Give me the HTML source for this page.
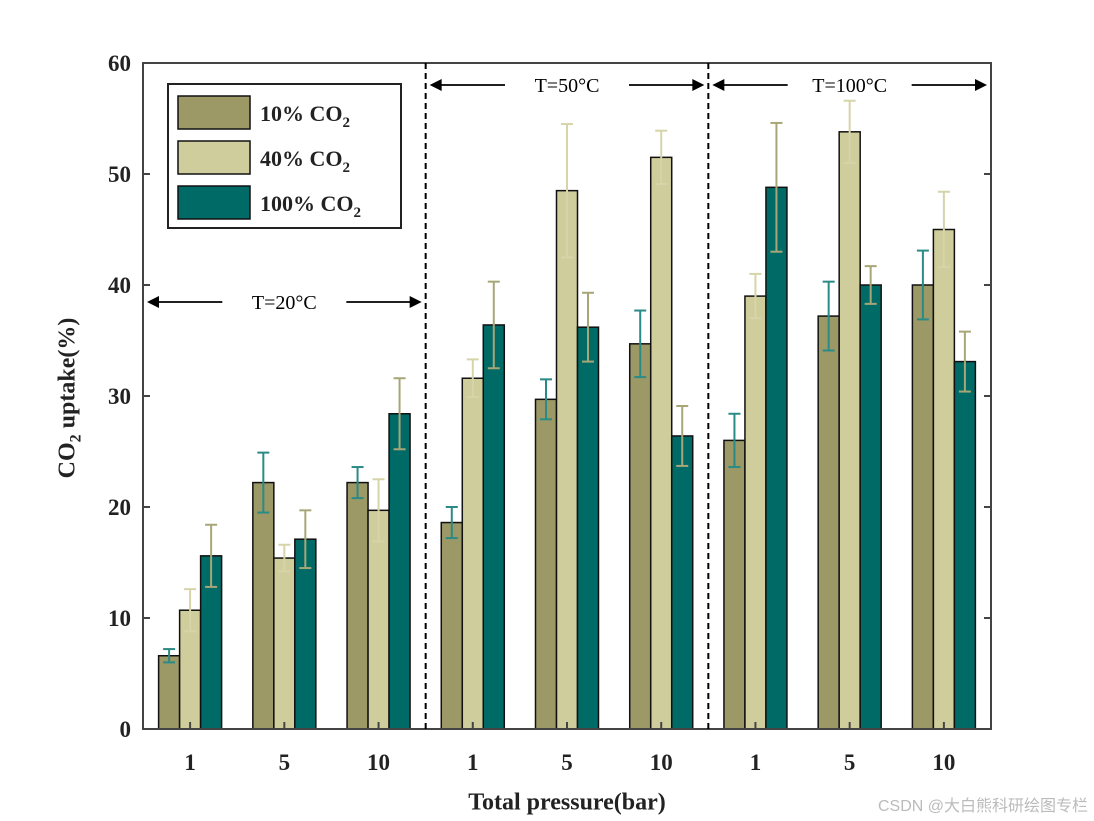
<!DOCTYPE html>
<html><head><meta charset="utf-8"><style>
body{margin:0;background:#fff;}
svg{display:block;font-family:"Liberation Serif",serif;}
</style></head><body>
<svg id="chart" width="1094" height="821" viewBox="0 0 1094 821"></svg>
<script>
const categories = ["1","5","10","1","5","10","1","5","10"];
const seriesNames = ["10% CO2","40% CO2","100% CO2"];
const s10 = [6.6,22.2,22.2,18.6,29.7,34.7,26.0,37.2,40.0];
const s40 = [10.7,15.4,19.7,31.6,48.5,51.5,39.0,53.8,45.0];
const s100 = [15.6,17.1,28.4,36.4,36.2,26.4,48.8,40.0,33.1];
const e10 = [0.6,2.7,1.4,1.4,1.8,3.0,2.4,3.1,3.1];
const e40 = [1.9,1.2,2.8,1.7,6.0,2.4,2.0,2.8,3.4];
const e100 = [2.8,2.6,3.2,3.9,3.1,2.7,5.8,1.7,2.7];
const yTicks = [0,10,20,30,40,50,60];
const regions = ["T=20°C","T=50°C","T=100°C"];

const NS="http://www.w3.org/2000/svg";
const svg=document.getElementById('chart');
const X0=143,X1=991,Y0=729,Y1=63;
const y=v=>Y0-(v/60)*(Y0-Y1);
const gw=(X1-X0)/9;
const xc=i=>X0+gw*(i+0.5);
const bw=21;
function el(t,a,p){const e=document.createElementNS(NS,t);for(const k in a)e.setAttribute(k,a[k]);(p||svg).appendChild(e);return e;}
const fills=["#9c9966","#cfcd9c","#006a66"];
const ecol=["#2a8a85","#d6d4a8","#a8a677"];
const sv=[s10,s40,s100], ev=[e10,e40,e100];
for(let i=0;i<9;i++){
  for(let s=0;s<3;s++){
    const cx=xc(i)+(s-1)*bw;
    const r=el('rect',{x:cx-bw/2,y:y(sv[s][i]),width:bw,height:Y0-y(sv[s][i]),fill:fills[s],stroke:"#111","stroke-width":1.5});
    
    
  }
}
for(let i=0;i<9;i++){
  for(let s=0;s<3;s++){
    const cx=xc(i)+(s-1)*bw;
    const g=el('g',{stroke:ecol[s],"stroke-width":2});
    
    
    const hi=y(sv[s][i]+ev[s][i]),lo=y(sv[s][i]-ev[s][i]);
    el('line',{x1:cx,x2:cx,y1:hi,y2:lo},g);
    el('line',{x1:cx-6,x2:cx+6,y1:hi,y2:hi},g);
    el('line',{x1:cx-6,x2:cx+6,y1:lo,y2:lo},g);
  }
}
// axes box
const ax=el('rect',{x:X0,y:Y1,width:X1-X0,height:Y0-Y1,fill:"none",stroke:"#444","stroke-width":2});

yTicks.forEach(t=>{
  el('line',{x1:X0,x2:X0+7,y1:y(t),y2:y(t),stroke:"#444","stroke-width":2});
  el('line',{x1:X1,x2:X1-7,y1:y(t),y2:y(t),stroke:"#444","stroke-width":2});
  const tx=el('text',{x:X0-12,y:y(t)+8,"text-anchor":"end","font-size":23,"font-weight":"bold",fill:"#222"});
  tx.textContent=t;
  
});
categories.forEach((c,i)=>{
  el('line',{x1:xc(i),x2:xc(i),y1:Y0,y2:Y0-7,stroke:"#444","stroke-width":2});
  const tx=el('text',{x:xc(i),y:770,"text-anchor":"middle","font-size":23,"font-weight":"bold",fill:"#222"});
  tx.textContent=c;
  
});
// dividers
[3,6].forEach(k=>{const l=el('line',{x1:X0+gw*k,x2:X0+gw*k,y1:Y1,y2:Y0,stroke:"#000","stroke-width":2,"stroke-dasharray":"6,4"});
});
// arrows
const arrY=[302,85,85];
regions.forEach((r,k)=>{
  const a=X0+gw*3*k+4,b=X0+gw*3*(k+1)-4,yy=arrY[k],m=(a+b)/2;
  const g=el('g',{});
  
  el('line',{x1:a+8,x2:m-62,y1:yy,y2:yy,stroke:"#000","stroke-width":1.8},g);
  el('line',{x1:m+62,x2:b-8,y1:yy,y2:yy,stroke:"#000","stroke-width":1.8},g);
  el('polygon',{points:`${a},${yy} ${a+12},${yy-6} ${a+12},${yy+6}`,fill:"#000"},g);
  el('polygon',{points:`${b},${yy} ${b-12},${yy-6} ${b-12},${yy+6}`,fill:"#000"},g);
  const t=el('text',{x:m,y:yy+7,"text-anchor":"middle","font-size":20,fill:"#000"},g);t.textContent=r;
});
// legend
const lg=el('g',{});

el('rect',{x:168,y:84,width:233,height:144,fill:"#fff",stroke:"#222","stroke-width":2},lg);
[96,141,186].forEach((yy,s)=>{
  const e=el('g',{},lg);
  
  el('rect',{x:178,y:yy,width:72,height:33,fill:fills[s],stroke:"#111","stroke-width":1.5},e);
  const t=el('text',{x:260,y:yy+25,"font-size":22,"font-weight":"bold",fill:"#222"},e);
  t.innerHTML=['10%','40%','100%'][s]+' CO<tspan font-size="15" dy="6">2</tspan>';
});
</script>
<div style="position:absolute;left:70px;top:398px;transform:translate(-50%,-50%) rotate(-90deg);font:bold 24px 'Liberation Serif',serif;color:#222;white-space:nowrap;">CO<sub style="font-size:16px">2</sub> uptake(%)</div>
<div style="position:absolute;left:567px;top:803px;transform:translate(-50%,-50%);font:bold 24px 'Liberation Serif',serif;color:#222;white-space:nowrap;">Total pressure(bar)</div>
<div style="position:absolute;right:6px;top:792px;font:16px 'Liberation Sans','Noto Sans CJK SC',sans-serif;color:#bbb;">CSDN @大白熊科研绘图专栏</div>
</body></html>
